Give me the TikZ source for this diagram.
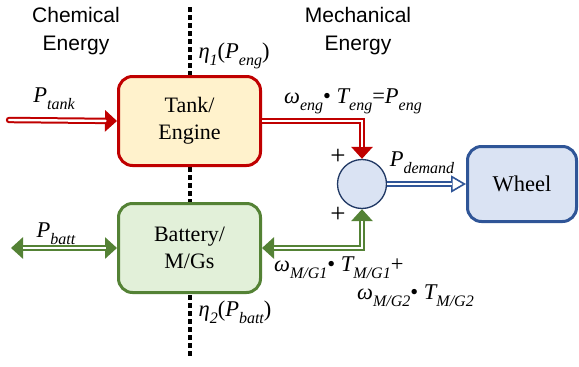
\documentclass[tikz,border=0pt]{standalone}
\usepackage{fontspec}
\setmainfont{Liberation Serif}
\newfontfamily\arialf{Liberation Sans}
\usetikzlibrary{arrows.meta}
\definecolor{cred}{HTML}{C00000}
\definecolor{cyel}{HTML}{FFF2CC}
\definecolor{cgrn}{HTML}{548235}
\definecolor{cgrnf}{HTML}{E2F0D9}
\definecolor{cblu}{HTML}{2F5597}
\definecolor{cbluf}{HTML}{DAE3F3}
\definecolor{cnavy}{HTML}{203864}
\newcommand\sbx[1]{\raisebox{-0.3em}{\fontsize{16}{16}\selectfont\itshape #1}}
\tikzset{
  blk/.style={rounded corners=14, line width=3, minimum width=142, minimum height=89, align=center, font=\fontsize{22}{27}\selectfont},
  dblend/.style={line width=6.4, postaction={draw=white, line width=2.4, -, shorten >=#1}},
  dblboth/.style={line width=6.4, postaction={draw=white, line width=2.4, -, shorten >=#1, shorten <=#1}},
  lbl/.style={font=\fontsize{22.5}{24}\selectfont, inner sep=0},
  ttl/.style={font=\arialf\fontsize{21}{28}\selectfont, align=center, inner sep=0},
}
\begin{document}
\begin{tikzpicture}[x=1pt,y=-1pt,
  >={Triangle[length=12pt 0 0,width=21pt 0 0]}]
\useasboundingbox (0,0) rectangle (579,367);
\draw[line width=3.2, dash pattern=on 5 off 3] (190,7) -- (190,358);

\node[ttl] (chem) at (76,31) {Chemical\\Energy};
\node[ttl] (mech) at (358,31) {Mechanical\\Energy};

\node[blk, draw=cred, fill=cyel] (tank) at (189.5,121) {Tank/\\Engine};
\node[blk, draw=cgrn, fill=cgrnf] (batt) at (189.5,248) {Battery/\\M/Gs};
\node[rounded corners=14, line width=3, draw=cblu, fill=cbluf, minimum width=109, minimum height=75, font=\fontsize{22.5}{27}\selectfont] (wheel) at (522,184) {Wheel};
\node[circle, draw=cnavy, line width=1.3, fill=cbluf, minimum size=49, inner sep=0] (sum) at (362,184) {};

\coordinate (tin) at (9,120);
\coordinate (bin) at (11,248);

\draw[dblend=11.5, draw=cred, line cap=round, ->] (tin) -- (tank.west);
\draw[dblend=11.5, draw=cred, ->] (tank.east) -| (sum.north);
\draw[dblboth=11.5, draw=cgrn, <->] (bin) -- (batt.west);
\draw[dblboth=11.5, draw=cgrn, <->] (batt.east) -| (sum.south);
\draw[dblend=14, draw=cblu, -{Triangle[length=15pt 0 0,width=17pt 0 0,line width=1.6pt,fill=white]}] (sum.east) -- (wheel.west);

\node[lbl] (ptank) at (54,99) {\itshape P\sbx{tank}};
\node[lbl] (eta1) at (234,56) {\itshape η\sbx{1}\upshape(\itshape P\sbx{eng}\upshape)};
\node[lbl] (weng) at (353,101) {\itshape ω\sbx{eng}\upshape•\itshape\ T\sbx{eng}\upshape=\itshape P\sbx{eng}};
\node[font=\fontsize{27}{27}\selectfont, inner sep=0] (plus1) at (338,157) {+};
\node[font=\fontsize{27}{27}\selectfont, inner sep=0] (plus2) at (338,215) {+};
\node[lbl] (pdem) at (422,163) {\itshape P\sbx{demand}};
\node[lbl] (pbatt) at (56,234) {\itshape P\sbx{batt}};
\node[lbl, anchor=west] (wmg1) at (274,268) {\itshape ω\sbx{M/G1}\upshape•\itshape\ T\sbx{M/G1}\upshape+};
\node[lbl, anchor=west] (wmg2) at (357,296) {\itshape ω\sbx{M/G2}\upshape•\itshape\ T\sbx{M/G2}};
\node[lbl] (eta2) at (235,312) {\itshape η\sbx{2}\upshape(\itshape P\sbx{batt}\upshape)};
\end{tikzpicture}
\end{document}
